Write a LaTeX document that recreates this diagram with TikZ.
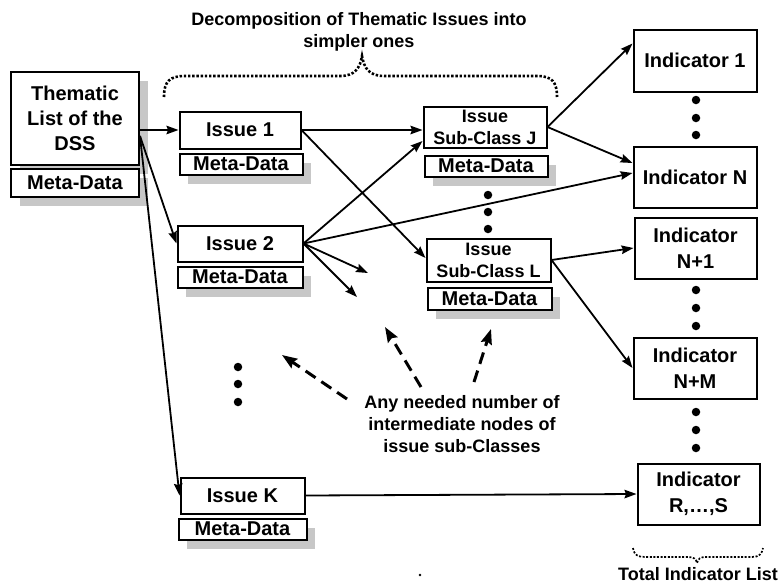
\documentclass[tikz,border=0pt]{standalone}
\usepackage{fontspec}
\setmainfont{Liberation Sans}
\usetikzlibrary{arrows.meta,shadows}
\begin{document}
\begin{tikzpicture}[x=1pt,y=-1pt,
  big/.style={font=\bfseries\fontsize{20}{25}\selectfont},
  small/.style={font=\bfseries\fontsize{18}{22}\selectfont},
  box/.style={draw,line width=2pt,fill=white,align=center,inner sep=0pt},
  shade/.style={general shadow={fill=black!22,shadow xshift=8.5pt,shadow yshift=-9.5pt}},
  meta/.style={box,big,shade},
  arr/.style={line width=1.8pt,-{Stealth[length=12pt,width=8.5pt,inset=1.5pt]}},
  dasharr/.style={line width=3pt,dash pattern=on 12pt off 7pt,-{Stealth[length=15pt,width=11pt,inset=2pt]}},
  brace/.style={line width=2.6pt,dash pattern=on 2.4pt off 1.8pt},
  dot/.style={circle,fill=black,inner sep=0pt,minimum size=8.5pt}
]
\useasboundingbox (0,0) rectangle (780,584);

% thematic list of the DSS
\node[box,big,shade,minimum width=128pt,minimum height=93pt] (them) at (75,118)
  {Thematic\\List of the\\DSS};
\node[meta,minimum width=128pt,minimum height=28pt] (themmd) at (75,182.5) {Meta-Data};

% issues
\node[box,big,minimum width=121pt,minimum height=37pt] (iss1) at (240,130) {Issue 1};
\node[meta,minimum width=123pt,minimum height=21pt] (iss1md) at (241,164) {Meta-Data};
\node[box,big,minimum width=125pt,minimum height=36pt] (iss2) at (240,243.5) {Issue 2};
\node[meta,minimum width=125pt,minimum height=21pt] (iss2md) at (240,277) {Meta-Data};
\node[box,big,minimum width=124pt,minimum height=36pt] (issK) at (242.5,495.5) {Issue K};
\node[meta,minimum width=128pt,minimum height=21pt] (issKmd) at (242.5,529) {Meta-Data};

% issue sub-classes
\node[box,small,minimum width=123pt,minimum height=41pt] (subJ) at (485,127) {Issue\\Sub-Class J};
\node[meta,minimum width=123pt,minimum height=21pt] (subJmd) at (486,166) {Meta-Data};
\node[box,small,minimum width=124pt,minimum height=43pt] (subL) at (488.5,260) {Issue\\Sub-Class L};
\node[meta,minimum width=124pt,minimum height=22pt] (subLmd) at (489.5,298.5) {Meta-Data};

% indicators
\node[box,big,minimum width=123pt,minimum height=62pt] (ind1) at (695,60.5) {Indicator 1};
\node[box,big,minimum width=123pt,minimum height=61pt] (indN) at (695,177) {Indicator N};
\node[box,big,minimum width=122pt,minimum height=61pt,font=\bfseries\fontsize{20}{26}\selectfont] (indN1) at (695.5,248) {Indicator\\N+1};
\node[box,big,minimum width=123pt,minimum height=61pt,font=\bfseries\fontsize{20}{26}\selectfont] (indNM) at (695,368) {Indicator\\N+M};
\node[box,big,minimum width=122pt,minimum height=61pt,font=\bfseries\fontsize{20}{26}\selectfont] (indRS) at (698.5,494) {Indicator\\R,\dots,S};

% vertical ellipses
\foreach \y [count=\i] in {195,212,229} \node[dot] (dJL\i) at (488,\y) {};
\foreach \y [count=\i] in {100,118,135} \node[dot] (dA\i) at (696,\y) {};
\foreach \y [count=\i] in {290,308,326} \node[dot] (dB\i) at (696,\y) {};
\foreach \y [count=\i] in {412,430,448} \node[dot] (dC\i) at (696,\y) {};
\foreach \y [count=\i] in {367,384,402} \node[dot] (dK\i) at (238,\y) {};

% captions
\node[small,align=center] (title) at (359,32) {Decomposition of Thematic Issues into\\simpler ones};
\node[small,align=center] (note) at (462,424) {Any needed number of\\intermediate nodes of\\issue sub-Classes};
\node[small] (total) at (698,574) {Total Indicator List};
\fill (420,575) circle (1.3pt);

% braces
\draw[brace] (164,97) .. controls (164,81) and (170,76) .. (185,76) -- (340,76)
  .. controls (355,76) and (360,68) .. (362,56)
  .. controls (364,68) and (369,76) .. (384,76) -- (537,76)
  .. controls (552,76) and (557,82) .. (557,97);
\draw[brace,line width=1.7pt,dash pattern=on 2pt off 1.6pt] (633,548) .. controls (634,555) and (638,557) .. (645,557) -- (688,557)
  .. controls (694,557) and (696,559) .. (697,563)
  .. controls (698,559) and (700,557) .. (706,557) -- (752,557)
  .. controls (759,557) and (762,554) .. (763,548);

% connectors
\coordinate (tfork) at (140,136);
\coordinate (free1) at (368,273);
\coordinate (free2) at (357,297);
\draw[arr] (them.east |- iss1) -- (iss1.west);
\draw[arr] (tfork) -- (iss2.west);
\draw[arr] (tfork) -- (issK.west);
\draw[arr] (iss1.east |- 0,130) -- (subJ.west |- 0,130);
\draw[arr] (iss1.east) -- ([yshift=2pt]subL.west);
\draw[arr] (iss2.east) -- ([yshift=-14pt]subJ.west);
\draw[arr] (iss2.east) -- ([yshift=4pt]indN.west);
\draw[arr] (iss2.east) -- (free1);
\draw[arr] (iss2.east) -- (free2);
\draw[arr] (subJ.east) -- ([yshift=17pt]ind1.west);
\draw[arr] (subJ.east) -- ([yshift=14pt]indN.west);
\draw[arr] (subL.east) -- (indN1.west);
\draw[arr] (subL.east) -- (indNM.west);
\draw[arr] (issK.east) -- (indRS.west);

% dashed pointers from the note
\coordinate (n1) at (347,399); \coordinate (t1) at (282,355);
\coordinate (n2) at (421,387); \coordinate (t2) at (385,327);
\coordinate (n3) at (474,382); \coordinate (t3) at (491,329);
\draw[dasharr] (n1) -- (t1);
\draw[dasharr] (n2) -- (t2);
\draw[dasharr] (n3) -- (t3);
\end{tikzpicture}
\end{document}
